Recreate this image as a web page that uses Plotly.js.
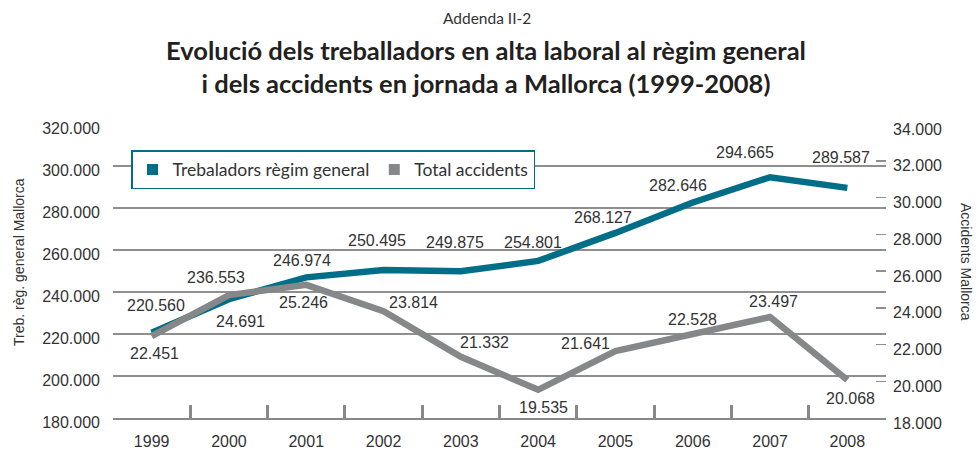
<!DOCTYPE html>
<html>
<head>
<meta charset="utf-8">
<script src="https://cdn.plot.ly/plotly-3.0.1.min.js"></script>
<style>
html,body{margin:0;padding:0;background:#fff;}
#chart{width:978px;height:452px;}
</style>
</head>
<body>
<div id="chart"></div>
<script>
// ---- data ----
const years = ['1999','2000','2001','2002','2003','2004','2005','2006','2007','2008'];
const workers = [220560, 236553, 246974, 250495, 249875, 254801, 268127, 282646, 294665, 289587];
const accidents = [22451, 24691, 25246, 23814, 21332, 19535, 21641, 22528, 23497, 20068];
const workersName = 'Trebaladors règim general';
const accidentsName = 'Total accidents';
const leftTitle = 'Treb. règ. general Mallorca';
const rightTitle = 'Accidents Mallorca';
const chartTitle = 'Evolució dels treballadors en alta laboral al règim general<br>i dels accidents en jornada a Mallorca (1999-2008)';
const supTitle = 'Addenda II-2';

// ---- label offsets (style) ----
const workersShift = [[4,27],[-13,22],[-4,17],[-7,29],[-6,29],[-5,18],[-12,15],[-15,17],[-25,25],[-6,30]];
const accShift = [[3,-17],[12,-26],[-3,-18],[30,9],[24,14],[5,-18],[-30,8],[0,15],[3,15],[3,-18]];

const teal = '#006e87';
const grey = '#868789';
const txt = '#333333';
const numFont = {family:'Liberation Sans, Arial, sans-serif', size:16, color:txt};

function fmt(v){ return v.toString().replace(/\B(?=(\d{3})+(?!\d))/g, '.'); }

const traces = [
  {x:years, y:accidents, yaxis:'y2', type:'scatter', mode:'lines',
   line:{color:grey, width:6.5}, showlegend:false, name:accidentsName, hoverinfo:'skip'},
  {x:years, y:workers, yaxis:'y', type:'scatter', mode:'lines',
   line:{color:teal, width:6.5}, showlegend:false, name:workersName, hoverinfo:'skip'},
  {x:[null], y:[null], type:'scatter', mode:'markers', name:workersName,
   marker:{symbol:'square', size:11, color:teal}},
  {x:[null], y:[null], type:'scatter', mode:'markers', name:accidentsName,
   marker:{symbol:'square', size:11, color:grey}}
];

const annotations = [];
years.forEach((yr,i)=>{
  annotations.push({x:i, y:workers[i], xref:'x', yref:'y', text:fmt(workers[i]), showarrow:false,
    xshift:workersShift[i][0], yshift:workersShift[i][1], font:numFont});
  annotations.push({x:i, y:accidents[i], xref:'x', yref:'y2', text:fmt(accidents[i]), showarrow:false,
    xshift:accShift[i][0], yshift:accShift[i][1], font:numFont});
});
annotations.push({text:supTitle, xref:'paper', yref:'paper', x:(487-113)/773, y:(418-18)/294,
  xanchor:'center', yanchor:'middle', showarrow:false, font:{family:'Lato', size:15.5, color:txt}});
annotations.push({text:leftTitle, xref:'paper', yref:'paper', x:(19-113)/773, y:(418-262)/294,
  xanchor:'center', yanchor:'middle', textangle:-90, showarrow:false,
  font:{family:'Liberation Sans, Arial, sans-serif', size:14, color:txt}});
annotations.push({text:rightTitle, xref:'paper', yref:'paper', x:(966-113)/773, y:(418-262)/294,
  xanchor:'center', yanchor:'middle', textangle:90, showarrow:false,
  font:{family:'Liberation Sans, Arial, sans-serif', size:14, color:txt}});

const layout = {
  width:978, height:452,
  margin:{l:113, r:92, t:124, b:34},
  paper_bgcolor:'#ffffff', plot_bgcolor:'#ffffff',
  separators:',.',
  title:{text:'<b>'+chartTitle+'</b>', xref:'container', yref:'container', x:486/978, y:1-60/452,
    xanchor:'center', yanchor:'middle', font:{family:'Lato', size:25.5, color:'#231f20'}},
  xaxis:{type:'category', categoryorder:'array', categoryarray:years, range:[-0.5,9.5],
    tickson:'boundaries', ticks:'inside', ticklen:13, tickwidth:3, tickcolor:'#888888',
    showline:true, linecolor:'#888888', linewidth:2, showgrid:false, zeroline:false,
    tickfont:numFont, ticklabelstandoff:8, fixedrange:true},
  yaxis:{range:[180000,320000], dtick:20000, tick0:180000, tickformat:',d',
    showgrid:true, gridcolor:'#8f8f8f', gridwidth:1.5, zeroline:false, showline:false,
    ticks:'', tickfont:numFont, ticklabelstandoff:12, ticklabelshift:4, fixedrange:true},
  yaxis2:{range:[18000,34000], dtick:2000, tick0:18000, tickformat:',d', overlaying:'y', side:'right',
    showgrid:false, zeroline:false, showline:false, ticks:'inside', ticklen:10, tickwidth:1.5,
    tickcolor:'#8f8f8f', tickfont:numFont, ticklabelstandoff:6, ticklabelshift:5, fixedrange:true},
  legend:{orientation:'h', x:(131-113)/773, y:(418-150)/294, xanchor:'left', yanchor:'top',
    bgcolor:'#ffffff', bordercolor:teal, borderwidth:1.5,
    font:{family:'Lato', size:17.5, color:txt}},
  annotations:annotations,
  showlegend:true
};

Plotly.newPlot('chart', traces, layout, {displayModeBar:false, staticPlot:true});
</script>
</body>
</html>
